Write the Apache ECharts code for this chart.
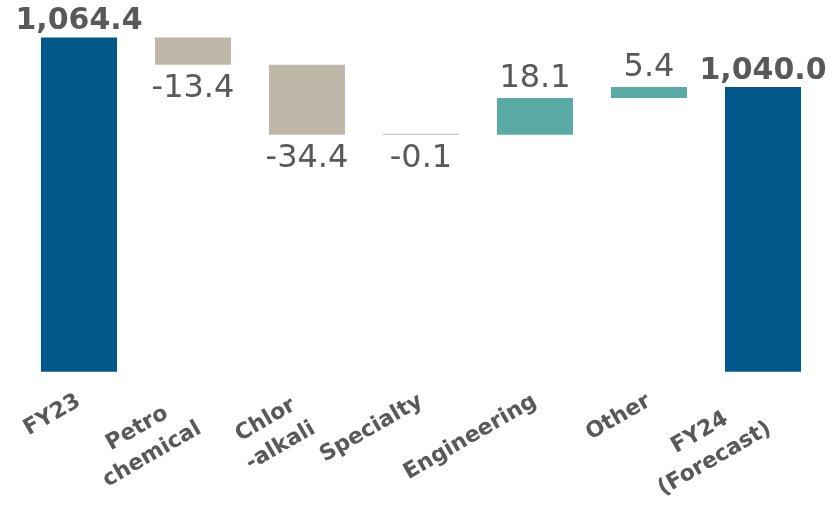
<!DOCTYPE html>
<html>
<head>
<meta charset="utf-8">
<script src="https://cdn.jsdelivr.net/npm/echarts@6/dist/echarts.min.js"></script>
<style>
  html, body { margin: 0; padding: 0; background: #fff; }
  #chart { width: 840px; height: 505px; }
</style>
</head>
<body>
<div id="chart"></div>
<script>
// Operating figures bridge, FY23 -> FY24 (forecast)
const categories = ['FY23', 'Petro\nchemical', 'Chlor\n-alkali', 'Specialty', 'Engineering', 'Other', 'FY24\n(Forecast)'];
const startTotal = 1064.4;
const endTotal = 1040.0;
const changes = [-13.4, -34.4, -0.1, 18.1, 5.4];

const COLOR_TOTAL = '#00598A';
const COLOR_DOWN = '#BFB8A8';
const COLOR_UP = '#5AABA5';
const TEXT = '#595959';
const LABEL_LINE = 30;

const fmtTotal = v => v.toLocaleString('en-US', { minimumFractionDigits: 1, maximumFractionDigits: 1 });

// Build invisible bases and visible steps for the stacked waterfall
const baseData = [0];
const stepData = [];
stepData.push({
  value: startTotal,
  itemStyle: { color: COLOR_TOTAL },
  label: { position: 'top', fontWeight: 'bold', fontSize: 30, distance: 1, formatter: () => fmtTotal(startTotal) }
});
let running = startTotal;
changes.forEach(d => {
  const next = +(running + d).toFixed(1);
  baseData.push(Math.min(running, next));
  stepData.push({
    value: Math.abs(d),
    itemStyle: { color: d < 0 ? COLOR_DOWN : COLOR_UP },
    label: { position: d < 0 ? 'bottom' : 'top', distance: d < 0 ? 8 : 3, formatter: () => d.toFixed(1) }
  });
  running = next;
});
baseData.push(0);
stepData.push({
  value: endTotal,
  itemStyle: { color: COLOR_TOTAL },
  label: { position: 'top', fontWeight: 'bold', fontSize: 30, distance: 1, formatter: () => fmtTotal(endTotal) }
});

// Multi-line category names hang from their first line, like single-line ones
const categoryItems = categories.map(name => {
  const extra = name.split('\n').length - 1;
  return extra > 0
    ? { value: name, textStyle: { padding: [extra * (LABEL_LINE - 6), 8, 0, 0] } }
    : name;
});

const chart = echarts.init(document.getElementById('chart'), null, { renderer: 'canvas' });
chart.setOption({
  animation: false,
  grid: { left: 22, right: 20, top: 26, bottom: 131, containLabel: false },
  xAxis: {
    type: 'category',
    data: categoryItems,
    axisLine: { show: false },
    axisTick: { show: false },
    axisLabel: {
      interval: 0,
      rotate: 30,
      margin: 28,
      color: TEXT,
      fontFamily: 'DejaVu Sans',
      fontWeight: 'bold',
      fontSize: 22,
      lineHeight: LABEL_LINE,
      formatter: v => v.split('\n').map(s => '{c|' + s + '}').join('\n'),
      rich: { c: { align: 'center', color: TEXT, fontFamily: 'DejaVu Sans', fontWeight: 'bold', fontSize: 22, lineHeight: LABEL_LINE } }
    }
  },
  yAxis: {
    type: 'value',
    min: 900,
    max: 1070,
    show: false,
    splitLine: { show: false }
  },
  series: [
    {
      type: 'bar',
      stack: 'wf',
      data: baseData,
      itemStyle: { color: 'transparent' },
      barWidth: '66.7%',
      silent: true
    },
    {
      type: 'bar',
      stack: 'wf',
      data: stepData,
      barWidth: '66.7%',
      barMinHeight: 1,
      label: {
        show: true,
        color: TEXT,
        fontFamily: 'DejaVu Sans',
        fontSize: 32
      }
    }
  ]
});
</script>
</body>
</html>
